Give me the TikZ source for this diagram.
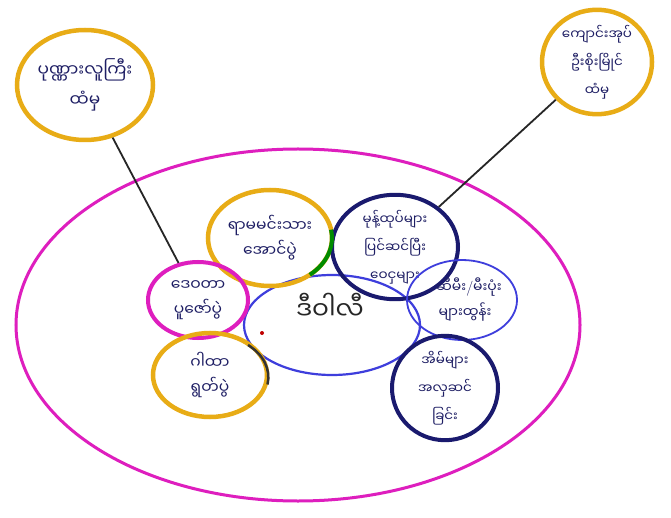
\documentclass[tikz,border=0pt]{standalone}
\usepackage{fontspec}
\newfontfamily\mya[Script=Myanmar]{Noto Sans Myanmar UI}
\usetikzlibrary{shapes.geometric}
\definecolor{gold}{RGB}{232,172,22}
\definecolor{magen}{RGB}{222,30,190}
\definecolor{navy}{RGB}{26,26,110}
\definecolor{mblue}{RGB}{62,62,220}
\definecolor{ink}{RGB}{30,30,100}
\newcommand{\slashmark}{{\rmfamily\fontsize{15}{20}\selectfont /}}
\begin{document}
\begin{tikzpicture}[x=1pt,y=-1pt,
  bub/.style={ellipse, draw, inner sep=0pt, align=center, text=ink,
    font=\mya\fontsize{15.5}{25}\selectfont},
  three/.style={font=\mya\fontsize{13.5}{28}\selectfont},
  goldb/.style={bub, draw=gold, line width=4.5pt},
  navyb/.style={bub, draw=navy, line width=4pt},
  magb/.style={bub, draw=magen, line width=4pt},
  blueb/.style={bub, draw=mblue, line width=2.2pt},
  link/.style={draw=black!85, line width=1.8pt}]
\fill[white] (0,0) rectangle (671,518);
\useasboundingbox (0,0) rectangle (671,518);
% big frame
\node[ellipse, draw=magen, line width=3pt, minimum width=564pt, minimum height=352pt] (frame) at (298,325) {};
% outer sources
\node[goldb, minimum width=136pt, minimum height=110pt, font=\mya\fontsize{17}{30}\selectfont] (src1) at (85,85) {ပုဏ္ဏားလူကြီး\\ထံမှ};
\node[goldb, minimum width=110pt, minimum height=100pt, three] (src2) at (597,62) {ကျောင်းအုပ်\\ဦးစိုးမြိုင်\\ထံမှ};
% centre
\node[blueb, minimum width=176pt, minimum height=100pt] (core) at (332,325) {};
\node[font=\mya\fontsize{25}{30}\selectfont, text=black!85] (coretxt) at (330,306) {ဒီဝါလီ};
% inner ideas
\node[goldb, minimum width=124pt, minimum height=96pt] (rama) at (270,238) {ရာမမင်းသား\\အောင်ပွဲ};
\node[navyb, minimum width=126pt, minimum height=96pt, three] (sweet) at (395,247) {မုန့်ထုပ်များ\\ပြင်ဆင်ပြီး\\ဝေငှများ};
\node[blueb, minimum width=110pt, minimum height=80pt, line width=1.8pt, font=\mya\fontsize{14}{25}\selectfont] (lamp) at (462,300) {\makebox[0pt]{\hspace*{14pt}ဆီမီး\slashmark မီးပုံး}\\\makebox[0pt]{\hspace*{6pt}များထွန်း}};
\node[navyb, minimum width=106pt, minimum height=84pt, three] (home) at (445,388) {အိမ်များ\\အလှဆင်\\ခြင်း};
\node[magb, minimum width=100pt, minimum height=76pt] (deva) at (198,300) {ဒေဝတာ\\ပူဇော်ပွဲ};
\node[goldb, minimum width=114pt, minimum height=84pt] (chant) at (210,375) {ဂါထာ\\ရွတ်ပွဲ};
% accents
\draw[green!55!black, line width=4pt] (331,229.7) arc[start angle=-10, end angle=50, x radius=62, y radius=48];
\draw[black!80, line width=2.5pt] (248,345) arc[start angle=-50, end angle=10, x radius=57, y radius=42];
\fill[red!75!black] (262,333) circle (2);
% connectors
\draw[link] (src1) -- (deva);
\draw[link] (src2) -- (sweet);
\end{tikzpicture}
\end{document}
